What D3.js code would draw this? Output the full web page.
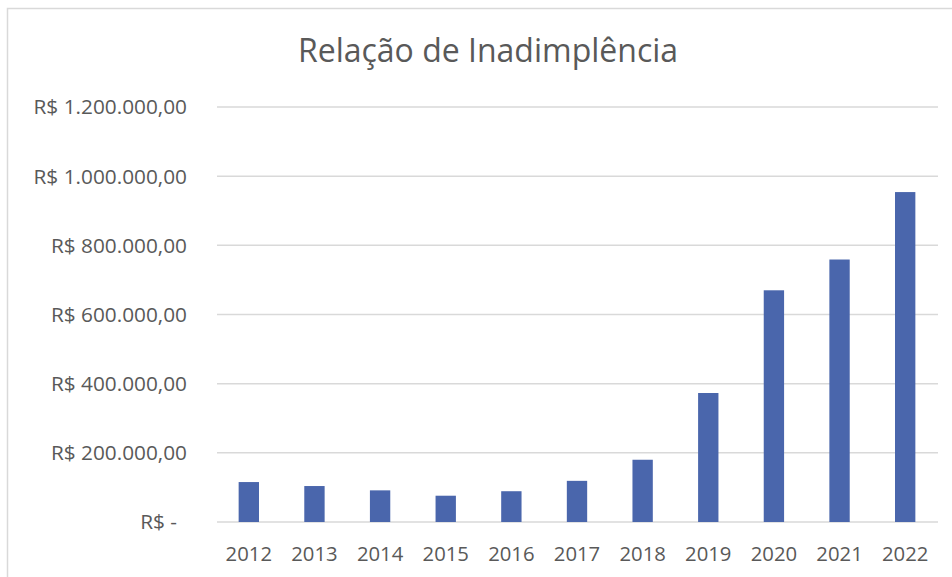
<!DOCTYPE html>
<html>
<head>
<meta charset="utf-8">
<script src="https://cdn.jsdelivr.net/npm/d3@7"></script>
<style>
  html, body { margin: 0; padding: 0; background: #fff; }
  svg text { font-family: "Open Sans", "Noto Sans", sans-serif; fill: #595959; }
</style>
</head>
<body>
<svg id="chart" width="952" height="577"></svg>
<script>
// dados
const anos = ["2012", "2013", "2014", "2015", "2016", "2017", "2018", "2019", "2020", "2021", "2022"];
const valores = [115500, 104000, 91500, 76000, 89000, 119000, 180000, 373000, 670000, 759000, 954000];
const ticksY = [0, 200000, 400000, 600000, 800000, 1000000, 1200000];
const titulo = "Relação de Inadimplência";

const width = 952, height = 577;
const margin = { top: 107, right: 14, bottom: 55, left: 216 };

const svg = d3.select("#chart");

// moldura do gráfico
svg.append("rect")
    .attr("x", 7.5)
    .attr("y", 8.5)
    .attr("width", width)
    .attr("height", height)
    .attr("fill", "none")
    .attr("stroke", "#d9d9d9")
    .attr("stroke-width", 1.5);

const x = d3.scaleBand()
    .domain(anos)
    .range([margin.left, width - margin.right])
    .paddingInner(0.69)
    .paddingOuter(0.345);

const y = d3.scaleLinear()
    .domain([0, 1200000])
    .range([522, margin.top]);

// formato R$ brasileiro
const br = d3.formatLocale({ decimal: ",", thousands: ".", grouping: [3], currency: ["R$ ", ""] });
const fmt = v => v === 0 ? "R$ -" : "R$ " + br.format(",.2f")(v);

// linhas de grade
svg.append("g")
    .selectAll("line")
    .data(ticksY)
    .join("line")
    .attr("x1", margin.left + 1)
    .attr("x2", width - margin.right)
    .attr("y1", d => y(d))
    .attr("y2", d => y(d))
    .attr("stroke", "#d9d9d9")
    .attr("stroke-width", 1.5);

// rótulos do eixo Y
svg.append("g")
    .selectAll("text")
    .data(ticksY)
    .join("text")
    .attr("x", d => d === 0 ? 177 : 187)
    .attr("y", d => y(d))
    .attr("dy", "0.36em")
    .attr("text-anchor", "end")
    .style("font-size", "20.8px")
    .text(fmt);

// barras
svg.append("g")
    .selectAll("rect")
    .data(anos)
    .join("rect")
    .attr("x", d => x(d))
    .attr("width", x.bandwidth())
    .attr("y", (d, i) => y(valores[i]))
    .attr("height", (d, i) => y(0) - y(valores[i]))
    .attr("fill", "#4a66ac");

// rótulos do eixo X
svg.append("g")
    .selectAll("text")
    .data(anos)
    .join("text")
    .attr("x", d => x(d) + x.bandwidth() / 2)
    .attr("y", 561)
    .attr("text-anchor", "middle")
    .style("font-size", "20.3px")
    .text(d => d);

// título
svg.append("text")
    .attr("x", 488)
    .attr("y", 62)
    .attr("text-anchor", "middle")
    .style("font-size", "32px")
    .text(titulo);
</script>
</body>
</html>
